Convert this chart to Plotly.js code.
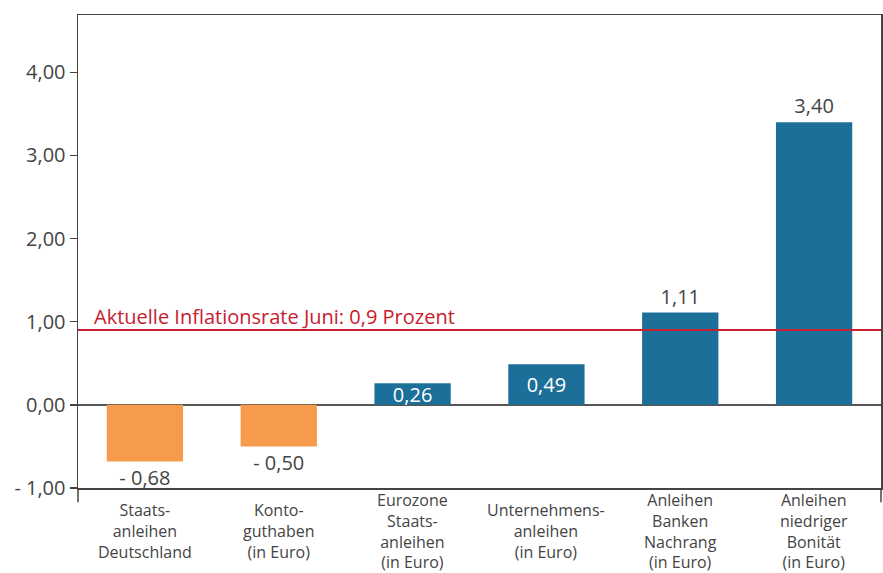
<!DOCTYPE html>
<html>
<head>
<meta charset="utf-8">
<script src="https://cdn.plot.ly/plotly-3.0.1.min.js"></script>
<style>html,body{margin:0;padding:0;background:#fff;}#chart{width:883px;height:573px;}</style>
</head>
<body>
<div id="chart"></div>
<script>
const categories = [
  "Staats-<br>anleihen<br>Deutschland",
  "Konto-<br>guthaben<br>(in Euro)",
  "Eurozone<br>Staats-<br>anleihen<br>(in Euro)",
  "Unternehmens-<br>anleihen<br>(in Euro)",
  "Anleihen<br>Banken<br>Nachrang<br>(in Euro)",
  "Anleihen<br>niedriger<br>Bonität<br>(in Euro)"
];
const values = [-0.68, -0.50, 0.26, 0.49, 1.11, 3.40];
const valueLabels = ["- 0,68", "- 0,50", "0,26", "0,49", "1,11", "3,40"];
const yTickVals = [-1, 0, 1, 2, 3, 4];
const yTickText = ["- 1,00", "0,00", "1,00", "2,00", "3,00", "4,00"];
const inflationRate = 0.9;
const inflationLabel = "Aktuelle Inflationsrate Juni: 0,9 Prozent";

const ORANGE = "#F59B4B", BLUE = "#1B6F98", RED = "#C8202F", TXT = "#444444";
const FONT = "'Open Sans', 'Noto Sans', sans-serif";

const colors = values.map(v => v < 0 ? ORANGE : BLUE);
const positions = values.map(v => (v > 0.1 && v < 0.8) ? "inside" : "outside");
const xIdx = categories.map((c, i) => i);

const trace = {
  type: "bar",
  x: xIdx,
  y: values,
  marker: {color: colors, line: {width: 0}},
  text: valueLabels,
  textposition: positions,
  insidetextanchor: "middle",
  constraintext: "none",
  cliponaxis: false,
  outsidetextfont: {family: FONT, size: 20, color: TXT},
  insidetextfont: {family: FONT, size: 20, color: "#ffffff"},
  hoverinfo: "skip"
};

const PLOT_H = 573 - 15 - 85;
const LABEL_CENTER_PX = 43;   // below plot bottom
const annotations = categories.map((c, i) => ({
  x: i, xref: "x", y: -LABEL_CENTER_PX / PLOT_H, yref: "paper",
  text: c, showarrow: false, xanchor: "center", yanchor: "middle",
  align: "center", font: {family: FONT, size: 16, color: TXT}
}));
annotations.push({
  x: 0.017, xref: "paper", y: inflationRate, yref: "y",
  text: inflationLabel, showarrow: false, xanchor: "left", yanchor: "bottom",
  yshift: -2, font: {family: FONT, size: 20, color: RED}
});

const layout = {
  width: 883, height: 573,
  margin: {l: 78, r: 2, t: 15, b: 85},
  paper_bgcolor: "#fff", plot_bgcolor: "#fff",
  showlegend: false,
  bargap: 0.43,
  font: {family: FONT, color: TXT},
  xaxis: {
    range: [-0.5, 5.5], showticklabels: false, ticks: "",
    showgrid: false, zeroline: false,
    showline: true, mirror: true, linecolor: "#444", linewidth: 1.5
  },
  yaxis: {
    range: [-1, 4.69], tickvals: yTickVals, ticktext: yTickText,
    ticks: "outside", ticklen: 7, tickcolor: "#444", tickwidth: 1.5,
    tickfont: {family: FONT, size: 20, color: TXT},
    showgrid: false, zeroline: true, zerolinecolor: "#555", zerolinewidth: 1.5,
    showline: true, mirror: true, linecolor: "#444", linewidth: 1.5
  },
  shapes: [
    {type: "line", xref: "paper", yref: "y", x0: 0, x1: 1, y0: inflationRate, y1: inflationRate,
     line: {color: RED, width: 2}},
    {type: "line", xref: "paper", yref: "paper", x0: 0, x1: 0, y0: 0, y1: -0.03,
     line: {color: "#444", width: 1.5}},
    {type: "line", xref: "paper", yref: "paper", x0: 1, x1: 1, y0: 0, y1: -0.03,
     line: {color: "#444", width: 1.5}}
  ],
  annotations: annotations
};

Plotly.newPlot("chart", [trace], layout, {displayModeBar: false, staticPlot: true});
</script>
</body>
</html>
